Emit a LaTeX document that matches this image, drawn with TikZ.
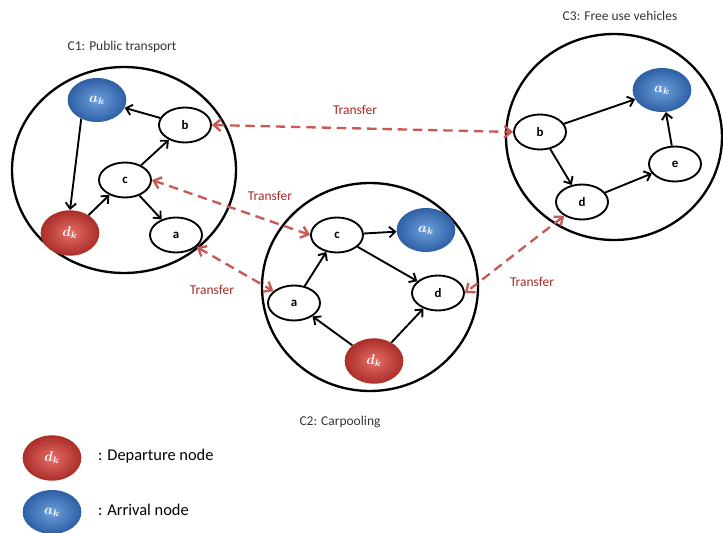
\documentclass[tikz,border=0pt]{standalone}
\usepackage{fontspec}
\setmainfont{Carlito}
\usetikzlibrary{shapes.geometric,arrows.meta}
\definecolor{trline}{RGB}{200,90,85}
\definecolor{trtext}{RGB}{170,40,40}
\definecolor{redin}{RGB}{230,110,105}
\definecolor{redout}{RGB}{170,45,40}
\definecolor{bluein}{RGB}{110,160,220}
\definecolor{blueout}{RGB}{45,95,165}

\begin{document}
\begin{tikzpicture}[x=0.03cm,y=-0.03cm,
    zone/.style={draw,ellipse,line width=2pt,inner sep=0pt},
    station/.style={draw,ellipse,line width=1.6pt,minimum width=1.56cm,minimum height=1.05cm,inner sep=0pt,font=\fontsize{11}{13}\selectfont\bfseries},
    dep/.style={ellipse,minimum width=1.76cm,minimum height=1.36cm,inner sep=0pt,text=white,font=\large\boldmath,shading=radial,inner color=redin,outer color=redout},
    arr/.style={ellipse,minimum width=1.76cm,minimum height=1.32cm,inner sep=0pt,text=white,font=\large\boldmath,shading=radial,inner color=bluein,outer color=blueout},
    link/.style={-{Straight Barb[length=5pt,width=9pt]},line width=1.6pt},
    transfer/.style={{Straight Barb[length=6pt,width=10pt]}-{Straight Barb[length=6pt,width=10pt]},dash pattern=on 8pt off 5pt,line width=2pt,trline},
    lbl/.style={text=trtext,font=\fontsize{11.5}{13}\selectfont},
    title/.style={text=black!80,font=\fontsize{11.5}{13}\selectfont}]
\useasboundingbox (0,0) rectangle (723,533);

% zones
\node[zone,minimum width=6.72cm,minimum height=6.18cm] (c1) at (124,170) {};
\node[zone,minimum width=6.48cm,minimum height=6.24cm] (c2) at (370,287) {};
\node[zone,minimum width=6.48cm,minimum height=6.18cm] (c3) at (614,137) {};
\node[title] (t1) at (122,47) {C1: Public transport};
\node[title] (t2) at (340,422) {C2: Carpooling};
\node[title] (t3) at (620,16) {C3: Free use vehicles};

% C1
\node[arr] (c1ak) at (97,100) {$a_k$};
\node[station] (c1b) at (185,125) {b};
\node[station] (c1c) at (125,180) {c};
\node[dep] (c1dk) at (70,233) {$d_k$};
\node[station] (c1a) at (176,235) {a};
\draw[link] (c1b) -- (c1ak);
\draw[link] (c1ak.230) -- (c1dk.north);
\draw[link] (c1dk) -- (c1c);
\draw[link] (c1c) -- (c1b);
\draw[link] (c1c) -- (c1a);

% C2
\node[station] (c2c) at (337,235) {c};
\node[arr] (c2ak) at (426,230) {$a_k$};
\node[station] (c2a) at (294,303) {a};
\node[station] (c2d) at (438,293) {d};
\node[dep] (c2dk) at (374,361) {$d_k$};
\draw[link] (c2c) -- (c2ak);
\draw[link] (c2c) -- (c2d);
\draw[link] (c2a) -- (c2c);
\draw[link] (c2dk) -- (c2a);
\draw[link] (c2dk) -- (c2d);

% C3
\node[arr] (c3ak) at (662,90) {$a_k$};
\node[station] (c3b) at (540,132) {b};
\node[station] (c3d) at (582,202) {d};
\node[station] (c3e) at (675,164) {e};
\draw[link] (c3b) -- (c3ak);
\draw[link] (c3b) -- (c3d);
\draw[link] (c3d) -- (c3e);
\draw[link] (c3e) -- (c3ak);

% transfers
\draw[transfer] (c1b.east) -- (c3b.west);
\draw[transfer] (c1c.east) -- (c2c.west);
\draw[transfer] (c1a) -- (c2a);
\draw[transfer] (c3d) -- (c2d.east);
\node[lbl] (l1) at (355,110) {Transfer};
\node[lbl] (l2) at (270,196) {Transfer};
\node[lbl] (l3) at (212,290) {Transfer};
\node[lbl] (l4) at (532,282) {Transfer};

% legend
\node[dep] (legd) at (52,458) {$d_k$};
\node[arr] (lega) at (52,512) {$a_k$};
\node[anchor=west,font=\fontsize{14}{16}\selectfont] (legdt) at (94,456) {: Departure node};
\node[anchor=west,font=\fontsize{14}{16}\selectfont] (legat) at (94,510) {: Arrival node};
\end{tikzpicture}
\end{document}
